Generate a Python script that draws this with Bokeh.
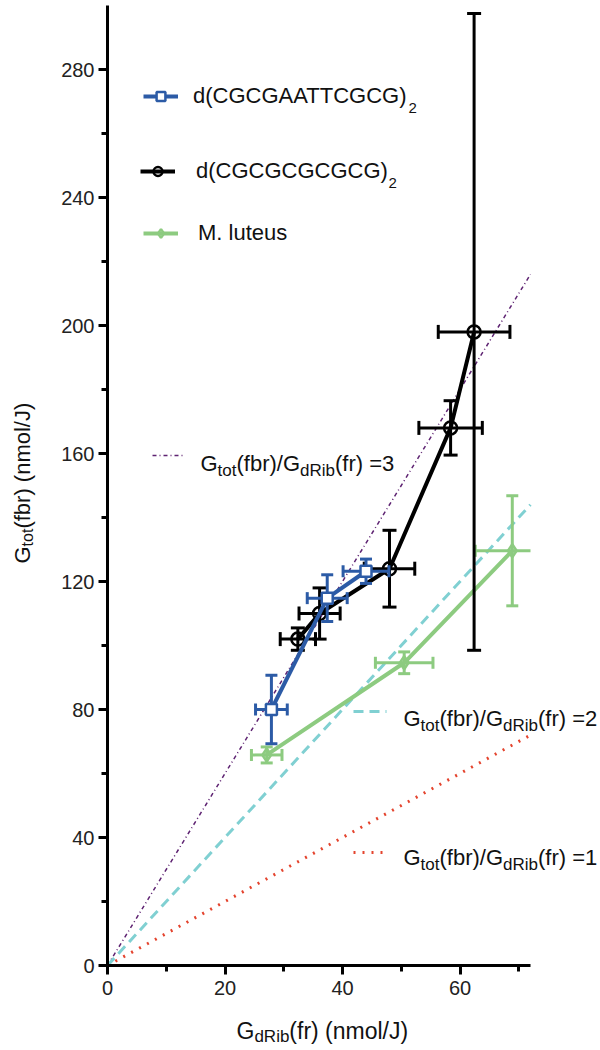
import math
from bokeh.plotting import figure
from bokeh.models import (Label, Legend, LegendItem, FixedTicker, Range1d, Arrow)
from bokeh.embed import file_html
from bokeh.resources import INLINE

# ---------------- data ----------------
aatt_x = [27.9, 37.4, 44.0]
aatt_y = [80.0, 114.8, 123.2]
aatt_xerr = [2.7, 3.4, 3.9]
aatt_yerr = [10.7, 7.3, 3.8]

gc_x = [32.4, 36.1, 48.0, 58.4, 62.4]
gc_y = [102.0, 110.0, 124.0, 168.0, 198.0]
gc_xerr = [3.0, 3.5, 4.3, 5.4, 6.1]
gc_yerr = [3.5, 8.0, 12.0, 8.5, 99.5]

ml_x = [27.1, 50.5, 68.9]
ml_y = [65.8, 94.6, 129.6]
ml_xerr = [2.6, 4.9, 6.3]
ml_yerr = [2.5, 3.4, 17.2]

ratios = [3, 2, 1]
ratio_x = [0, 72]

x_axis_bounds = (0, 72)
y_axis_bounds = (0, 300)
x_ticks = [0, 20, 40, 60]
x_minor = [10, 30, 50, 70]
y_ticks = [0, 40, 80, 120, 160, 200, 240, 280]
y_minor = [20, 60, 100, 140, 180, 220, 260]

series_names = ["d(CGCGAATTCGCG)", "d(CGCGCGCGCG)", "M. luteus"]

# ---------------- styling / layout ----------------
FONT = "Liberation Sans"
BLUE = "#2c5ba6"
BLACK = "#000000"
GREEN = "#8dcb80"
CYAN = "#80d0d2"
RED = "#e4442e"
PURPLE = "#5e2372"
TXT = "#111111"

CW, CH = 600, 1050          # canvas size
OX, OY = 107, 965           # pixel position of the data origin
SX, SY = 5.875, 3.2         # pixels per data unit

p = figure(width=CW, height=CH,
           x_range=Range1d(-OX / SX, (CW - OX) / SX),
           y_range=Range1d(-(CH - OY) / SY, OY / SY),
           output_backend="svg", toolbar_location=None, min_border=0)
p.outline_line_color = None
p.xgrid.visible = False
p.ygrid.visible = False
p.background_fill_color = "white"
p.border_fill_color = "white"

p.xaxis.fixed_location = 0
p.yaxis.fixed_location = 0
p.xaxis.bounds = x_axis_bounds
p.yaxis.bounds = y_axis_bounds
p.xaxis.ticker = FixedTicker(ticks=x_ticks, minor_ticks=x_minor)
p.yaxis.ticker = FixedTicker(ticks=y_ticks, minor_ticks=y_minor)
for ax in (p.xaxis[0], p.yaxis[0]):
    ax.axis_line_width = 3
    ax.axis_line_color = BLACK
    ax.major_tick_line_width = 3
    ax.minor_tick_line_width = 3
    ax.major_tick_out = 9
    ax.major_tick_in = 0
    ax.minor_tick_out = 6
    ax.minor_tick_in = 0
    ax.major_label_text_font = FONT
    ax.major_label_text_font_size = "20px"
    ax.major_label_text_color = "#222222"
p.xaxis.major_label_standoff = 6
p.yaxis.major_label_standoff = 4

# ---------------- reference ratio lines ----------------
ratio_styles = {3: (PURPLE, "4 3 1 3", 1.5), 2: (CYAN, "10 6", 3), 1: (RED, "2 7", 3)}
for r in ratios:
    c, d, w = ratio_styles[r]
    p.line(ratio_x, [r * v for v in ratio_x], line_color=c, line_dash=d, line_width=w)

# ---------------- series with error bars ----------------
def draw_series(xs, ys, xe, ye, color, marker, msize, fill, cap):
    xmax = x_axis_bounds[1]
    lo_y = [y - e for y, e in zip(ys, ye)]
    hi_y = [y + e for y, e in zip(ys, ye)]
    lo_x = [x - e for x, e in zip(xs, xe)]
    hi_x = [min(x + e, xmax) for x, e in zip(xs, xe)]   # clipped at the end of the x axis
    p.segment(x0=xs, y0=lo_y, x1=xs, y1=hi_y, line_color=color, line_width=3)
    p.segment(x0=lo_x, y0=ys, x1=hi_x, y1=ys, line_color=color, line_width=3)
    p.scatter(x=xs + xs, y=hi_y + lo_y, marker="dash", size=cap, line_color=color, line_width=3)
    cap_x = lo_x + [x + e for x, e in zip(xs, xe) if x + e <= xmax]
    cap_y = ys + [y for x, y, e in zip(xs, ys, xe) if x + e <= xmax]
    p.scatter(x=cap_x, y=cap_y, marker="dash", size=cap, angle=math.pi / 2,
              line_color=color, line_width=3)
    lr = p.line(xs, ys, line_color=color, line_width=4)
    sr = p.scatter(xs, ys, marker=marker, size=msize, line_color=color, line_width=2.5,
                   fill_color=fill if fill else "white", fill_alpha=1 if fill else 0)
    return [lr, sr]

ml_r = draw_series(ml_x, ml_y, ml_xerr, ml_yerr, GREEN, "diamond", 13, None, 12)
gc_r = draw_series(gc_x, gc_y, gc_xerr, gc_yerr, BLACK, "circle", 13, None, 14)
aa_r = draw_series(aatt_x, aatt_y, aatt_xerr, aatt_yerr, BLUE, "square", 11, "white", 12)

# ---------------- text helpers ----------------
W = {' ': 278, '(': 333, ')': 333, '/': 278, '=': 584, '1': 556, '2': 556, '3': 556,
     'G': 778, 'R': 722, 'J': 500, 'C': 722, 'A': 667, 'T': 611, 'M': 833, 'b': 556,
     'd': 556, 'f': 278, 'i': 222, 'l': 222, 'm': 833, 'n': 556, 'o': 556, 'r': 333,
     't': 278, 'u': 556, 'e': 556, 's': 500, '.': 278}

def tw(s, size):
    return sum(W.get(c, 556) for c in s) * size / 1000.0

def add_text(pieces, x0, y0, rotated=False):
    off = 0.0
    for txt, size, dy in pieces:
        if not rotated:
            lbl = Label(x=x0 + off, y=CH - (y0 + dy), x_units="screen", y_units="screen",
                        text=txt, text_font=FONT, text_font_size=f"{size}px", text_color=TXT,
                        text_align="left", text_baseline="alphabetic")
        else:
            lbl = Label(x=x0 + dy, y=CH - (y0 - off), x_units="screen", y_units="screen",
                        angle=math.pi / 2, text=txt, text_font=FONT, text_font_size=f"{size}px",
                        text_color=TXT, text_align="left", text_baseline="alphabetic")
        p.add_layout(lbl)
        off += tw(txt, size)

def ratio_pieces(k):
    return [("G", 22, 0), ("tot", 17, 7), ("(fbr)/", 22, 0), ("G", 22, 0), ("dRib", 17, 7),
            (f"(fr) ={k}", 22, 0)]

# ratio annotations: sample line + text
ratio_pos = {3: (152, 182, 455, 200, 463), 2: (353, 386, 711, 403, 718), 1: (353, 384, 852, 403, 857)}
for r in ratios:
    c, d, w = ratio_styles[r]
    xa, xb, ys, tx, ty = ratio_pos[r]
    p.add_layout(Arrow(end=None, x_start=xa, y_start=CH - ys, x_end=xb, y_end=CH - ys,
                       start_units="screen", end_units="screen", line_color=c, line_dash=d,
                       line_width=w))
    add_text(ratio_pieces(r), tx, ty)

# axis titles
add_text([("G", 23, 0), ("dRib", 17, 6), ("(fr) (nmol/J)", 23, 0)], 236, 1030)
add_text([("G", 22, 0), ("tot", 16, 5), ("(fbr) (nmol/J)", 22, 0)], 22, 563, rotated=True)

# ---------------- legend ----------------
leg_pos = [(143, 95, 15, aa_r), (140, 170, 21, gc_r), (143, 232, 20, ml_r)]
for name, (sx, sy, so, rends) in zip(series_names, leg_pos):
    leg = Legend(items=[LegendItem(label=name, renderers=rends)],
                 location=(sx, CH - sy - 14), padding=0, margin=0, spacing=0,
                 glyph_width=35, glyph_height=22, label_height=22, label_standoff=so,
                 label_text_font=FONT, label_text_font_size="22px", label_text_color=TXT,
                 border_line_color=None, background_fill_alpha=0)
    p.add_layout(leg)

# subscript "2" after the two oligonucleotide names
for name, (sx, sy, so, _r) in zip(series_names[:2], leg_pos[:2]):
    tx = sx + 35 + so + tw(name, 22)
    add_text([("2", 15, 0)], tx, sy + 12)

open("out.html", "w").write(file_html(p, INLINE))
